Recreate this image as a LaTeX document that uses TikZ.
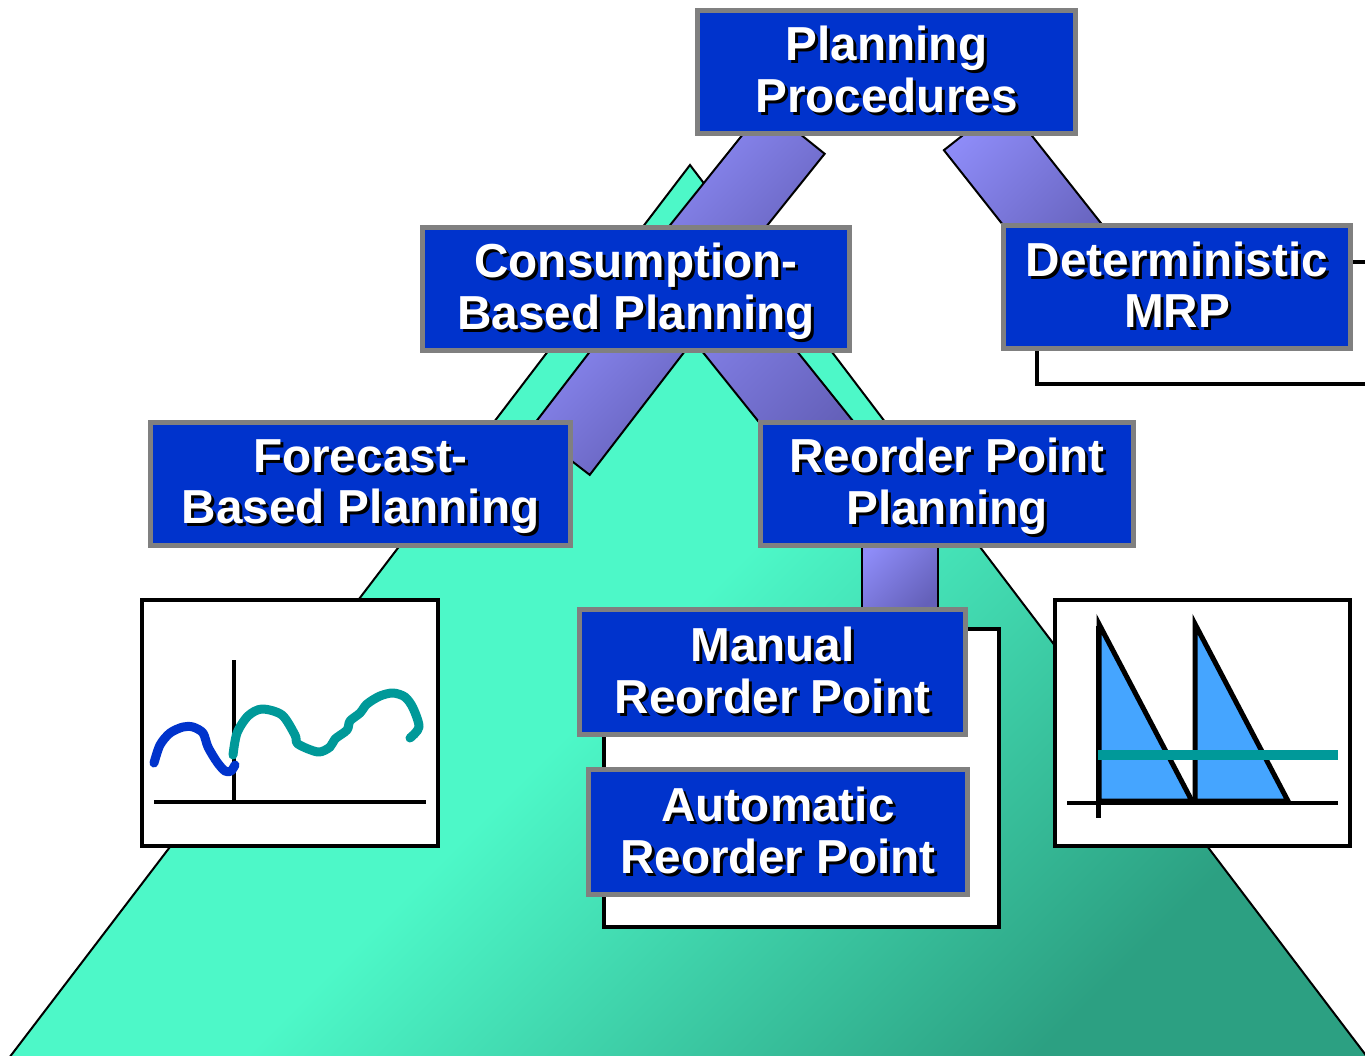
\documentclass[tikz,border=0pt]{standalone}
\usepackage{fontspec}
\setmainfont{Liberation Sans}
\usetikzlibrary{calc,shadings}
\definecolor{boxblue}{RGB}{0,51,204}
\definecolor{boxgray}{RGB}{128,128,128}
\definecolor{barlight}{RGB}{142,140,248}
\definecolor{bardark}{RGB}{100,96,185}
\definecolor{trilight}{RGB}{77,248,200}
\definecolor{tridark}{RGB}{44,160,130}
\definecolor{chartblue}{RGB}{0,51,204}
\definecolor{chartteal}{RGB}{0,153,153}
\definecolor{sailblue}{RGB}{69,165,255}
\newcommand\ShLine[1]{\leavevmode\rlap{\hspace{3pt}\raisebox{-3pt}{\textcolor{black}{#1}}}\textcolor{white}{#1}}
\newcommand\PlanBox[8]{%
  \node[pbox, minimum width=#4, minimum height=#5] (#1) at (#2,#3) {};
  \node[ptext] (#1-t) at ($(#1.center)+(0,#8)$) {\ShLine{#6}\\\ShLine{#7}};
}
\newcommand\BarConn[3]{%
  \path[barshape] ($(#1)!#3!90:(#2)$) -- ($(#2)!#3!-90:(#1)$) -- ($(#2)!#3!90:(#1)$) -- ($(#1)!#3!-90:(#2)$) -- cycle;
}
\begin{document}
\begin{tikzpicture}[x=1pt,y=-1pt,
  pbox/.style={draw=boxgray, line width=5pt, fill=boxblue, inner sep=0pt},
  ptext/.style={font=\fontsize{47.7}{51.5}\selectfont\bfseries, align=center, inner sep=0pt},
  barshape/.style={draw=black, line width=2pt, shading=axis, top color=barlight, bottom color=bardark, shading angle=45},
  tri/.style={draw=black, line width=2pt, shading=axis, top color=trilight, bottom color=tridark, middle color=trilight, shading angle=45},
  shadowbox/.style={draw=black, line width=4pt, fill=white},
  chartbox/.style={draw=black, line width=4.5pt, fill=white},
  axisline/.style={draw=black, line width=3.5pt},
  curve/.style={line width=9pt, line cap=round, line join=round},
]
\useasboundingbox (0,0) rectangle (1365,1055);

% big triangle
\path[tri] (690,165) -- (1368,1058) -- (9,1058) -- cycle;

% connector end points
\coordinate (b1s) at (795,130);   \coordinate (b1e) at (682,271);
\coordinate (b2s) at (974.5,126); \coordinate (b2e) at (1080,259.5);
\coordinate (b3s) at (670,309);   \coordinate (b3e) at (560,452);
\coordinate (b4s) at (671.5,254); \coordinate (b4e) at (828,449);
\coordinate (b5s) at (900,535);   \coordinate (b5e) at (900,615);

\BarConn{b1s}{b1e}{38pt}
\BarConn{b2s}{b2e}{39pt}
\BarConn{b3s}{b3e}{37.5pt}
\BarConn{b4s}{b4e}{37pt}
\BarConn{b5s}{b5e}{38pt}

% white shadow frames
\draw[shadowbox] (1037,262) rectangle (1400,384);
\draw[shadowbox] (604,629) rectangle (999,927);

% left chart
\draw[chartbox] (142,600) rectangle (438,846);
\draw[axisline] (234,660) -- (234,803);
\draw[axisline] (154,802) -- (426,802);
\draw[curve, chartblue] plot[smooth, tension=0.5] coordinates {(154,763) (160,745) (170,733) (183,727) (193,727) (203,733) (208,747) (217,762) (225,771) (231,771) (235,765)};
\draw[curve, chartteal] plot[smooth, tension=0.5] coordinates {(233,755) (237,733) (248,716) (262,709) (282,715) (295,735) (298,744) (318,752) (330,747) (335,739) (347,730) (350,721) (360,713) (367,704) (380,696) (393,693) (405,697) (413,708) (419,727) (410,738)};

% right chart
\draw[chartbox] (1055,600) rectangle (1350,846);
\draw[axisline] (1067,803) -- (1338,803);
\draw[fill=sailblue, draw=black, line width=5pt, line join=miter] (1099,624) -- (1192,801) -- (1099,801) -- cycle;
\draw[fill=sailblue, draw=black, line width=5pt, line join=miter] (1195,624) -- (1288,801) -- (1195,801) -- cycle;
\draw[black, line width=5pt] (1098,626) -- (1098,818);
\draw[chartteal, line width=10pt] (1098,755) -- (1338,755);

% boxes
\PlanBox{pp}{886.5}{72}{378}{123}{Planning}{Procedures}{-1}
\PlanBox{cbp}{636}{289}{427}{123}{Consumption-}{Based Planning}{4}
\PlanBox{dmrp}{1177}{287}{347}{123}{Deterministic}{MRP}{-1}
\PlanBox{fbp}{360.5}{484}{420}{123}{Forecast-}{Based Planning}{4}
\PlanBox{rpp}{947}{484}{373}{123}{Reorder Point}{Planning}{4}
\PlanBox{mrp}{772.5}{672}{386}{125}{Manual}{Reorder Point}{0}
\PlanBox{arp}{778}{832}{379}{125}{Automatic}{Reorder Point}{0}
\end{tikzpicture}
\end{document}
